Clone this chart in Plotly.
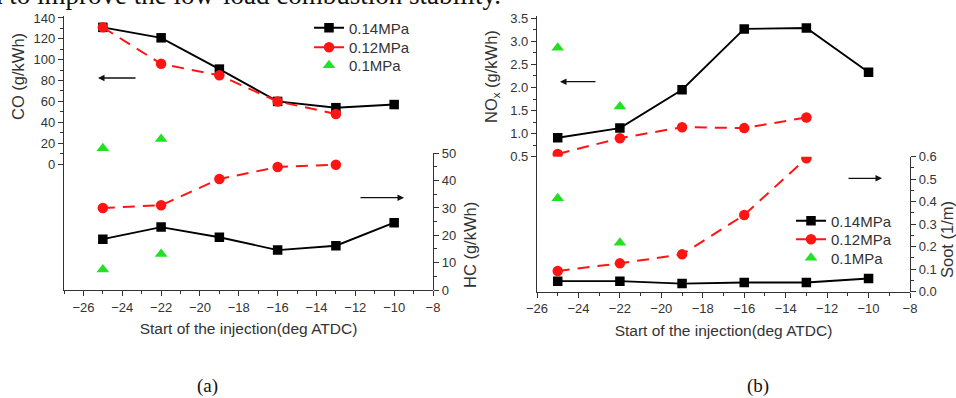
import plotly.graph_objects as go

# ---------------- data ----------------
x_all = [-25, -22, -19, -16, -13, -10]
x_012 = [-25, -22, -19, -16, -13]
x_01 = [-25, -22]
series_names = ["0.14MPa", "0.12MPa", "0.1MPa"]

co_014 = [131, 121, 91, 60, 54, 57]
co_012 = [131, 96, 85, 60, 48]
co_01 = [15, 24]

hc_014 = [18.6, 23.0, 19.3, 14.6, 16.2, 24.6]
hc_012 = [30, 31, 40.6, 45, 45.8]
hc_01 = [7.5, 13.2]

nox_014 = [0.91, 1.12, 1.95, 3.27, 3.29, 2.33]
nox_012 = [0.56, 0.90, 1.14, 1.12, 1.35]
nox_01 = [2.86, 1.59]

soot_014 = [0.047, 0.047, 0.036, 0.041, 0.041, 0.059]
soot_012 = [0.092, 0.126, 0.166, 0.341, 0.593]
soot_01 = [0.415, 0.218]

x_ticks = [-26, -24, -22, -20, -18, -16, -14, -12, -10, -8]
co_ticks = [0, 20, 40, 60, 80, 100, 120, 140]
co_minor = [10, 30, 50, 70, 90, 110, 130]
nox_ticks = [0.5, 1.0, 1.5, 2.0, 2.5, 3.0, 3.5]
nox_minor = [0.75, 1.25, 1.75, 2.25, 2.75, 3.25]

# ---------------- style ----------------
BLACK = "#000000"
RED = "#ff1414"
GREEN = "#22e022"
AX = "#333333"
SANS = "Liberation Sans, Arial, sans-serif"
SERIF = "Liberation Serif, Times New Roman, serif"

W, H = 956, 398


def px_x(p):
    return p / W


def px_y(p):
    return 1 - p / H


fig = go.Figure()


def add_series(xa, ya, ys, legends, show):
    y014, y012, y01 = ys
    fig.add_trace(go.Scatter(
        x=x_all, y=y014, xaxis=xa, yaxis=ya, mode="lines+markers",
        name=series_names[0], legend=legends[0], showlegend=show,
        line=dict(color=BLACK, width=1.9),
        marker=dict(symbol="square", size=9.5, color=BLACK)))
    fig.add_trace(go.Scatter(
        x=x_012, y=y012, xaxis=xa, yaxis=ya, mode="lines+markers",
        name=series_names[1], legend=legends[1], showlegend=show,
        line=dict(color=RED, width=2, dash="12px,8px"),
        marker=dict(symbol="circle", size=10.5, color=RED)))
    fig.add_trace(go.Scatter(
        x=x_01, y=y01, xaxis=xa, yaxis=ya, mode="markers",
        name=series_names[2], legend=legends[2], showlegend=show,
        marker=dict(symbol="triangle-up", size=11, color=GREEN)))


legs_a = ["legend", "legend2", "legend3"]
legs_b = ["legend4", "legend5", "legend6"]

# panel (a)
add_series("x", "y", (co_014, co_012, co_01), legs_a, True)
add_series("x", "y2", (hc_014, hc_012, hc_01), legs_a, False)
# panel (b)
add_series("x2", "y3", (nox_014, nox_012, nox_01), legs_b, False)
add_series("x2", "y4", (soot_014, soot_012, soot_01), legs_b, True)

tickfont = dict(family=SANS, size=13, color=AX)
common = dict(showline=True, linecolor=AX, linewidth=1.3, ticks="outside",
              ticklen=5, tickwidth=1.2, tickcolor=AX, tickfont=tickfont,
              showgrid=False, zeroline=False, automargin=False)
minor_common = dict(ticks="outside", ticklen=3, tickwidth=1, tickcolor=AX)
xtitle = dict(text="Start of the injection(deg ATDC)",
              font=dict(family=SANS, size=15.5, color=AX), standoff=9)

layout = dict(
    width=W, height=H,
    margin=dict(l=0, r=0, t=0, b=0, autoexpand=False),
    paper_bgcolor="white", plot_bgcolor="white",
    font=dict(family=SANS, color=AX),
    xaxis=dict(domain=[px_x(64), px_x(433)], anchor="y", range=[-27, -8],
               tickvals=x_ticks, minor=dict(dtick=1, tick0=-27, **minor_common),
               title=xtitle, **common),
    yaxis=dict(domain=[px_y(290), px_y(16)], anchor="x", range=[-120.8, 141.9],
               tickvals=co_ticks, minor=dict(tickvals=co_minor, **minor_common),
               **common),
    yaxis2=dict(domain=[px_y(290), px_y(153.3)], anchor="x", side="right",
                range=[0, 50], dtick=10, minor=dict(dtick=5, **minor_common),
                **common),
    xaxis2=dict(domain=[px_x(537), px_x(910)], anchor="y3", range=[-26, -8],
                tickvals=x_ticks, minor=dict(dtick=1, tick0=-26, **minor_common),
                title=xtitle, **common),
    yaxis3=dict(domain=[px_y(291.7), px_y(16)], anchor="x2", range=[-2.427, 3.55],
                tickvals=nox_ticks, tickformat=".1f",
                minor=dict(tickvals=nox_minor, **minor_common), **common),
    yaxis4=dict(domain=[px_y(291.7), px_y(156.7)], anchor="x2", side="right",
                range=[0, 0.6], dtick=0.1, tickformat=".1f",
                minor=dict(dtick=0.05, **minor_common), **common),
)

leg_font = dict(family=SANS, size=15, color=AX)
rows_a = [28, 47.5, 65.5]
rows_b = [221, 239.5, 258]
for name, row in zip(legs_a, rows_a):
    layout[name] = dict(x=px_x(309), y=px_y(row), xanchor="left", yanchor="middle",
                        font=leg_font, bgcolor="rgba(0,0,0,0)", itemsizing="trace")
for name, row in zip(legs_b, rows_b):
    layout[name] = dict(x=px_x(791), y=px_y(row), xanchor="left", yanchor="middle",
                        font=leg_font, bgcolor="rgba(0,0,0,0)", itemsizing="trace")
fig.update_layout(**layout)

ann = []


def label(text, cx, cy, font, angle=0):
    ann.append(dict(text=text, x=px_x(cx), y=px_y(cy), xref="paper", yref="paper",
                    xanchor="center", yanchor="middle", textangle=angle,
                    showarrow=False, font=font))


title_font = dict(family=SANS, size=16.5, color=AX)
# y-axis titles
label("CO (g/kWh)", 18, 77, title_font, -90)
label("HC (g/kWh)", 470, 245, title_font, -90)
label("NO<sub>x</sub> (g/kWh)", 492, 76, title_font, -90)
label("Soot (1/m)", 947, 240, title_font, -90)
# arrows
for hx, hy, dx in [(98, 78, 39), (404, 197.7, -45), (560, 81.7, 37), (882, 178.3, -35)]:
    ann.append(dict(text="", x=px_x(hx), y=px_y(hy), xref="paper", yref="paper",
                    ax=dx, ay=0, showarrow=True, arrowhead=2, arrowsize=1,
                    arrowwidth=1.3, arrowcolor="#111111"))
# panel labels
serif_font = dict(family=SERIF, size=19, color="#111111")
label("(a)", 207, 386, serif_font)
label("(b)", 758, 386, serif_font)
# cut-off body text at the top of the page
ann.append(dict(text="ed to improve the low-load combustion stability.", x=px_x(503),
                y=px_y(12), xref="paper", yref="paper", xanchor="right",
                yanchor="bottom", showarrow=False,
                font=dict(family=SERIF, size=27, color="#111111")))
fig.update_layout(annotations=ann)

# the page's default 8px body margin would shift the whole figure
fig.write_html("out.html", config={"displayModeBar": False},
               post_script="document.body.style.margin='0';"
                           "document.body.style.overflow='hidden';")
